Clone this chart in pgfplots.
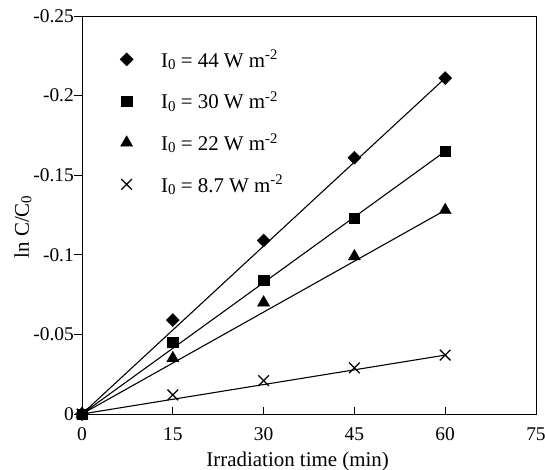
\documentclass[border=0pt]{standalone}
\usepackage{fontspec}
\setmainfont{Liberation Serif}
\usepackage{pgfplots}
\pgfplotsset{compat=1.18}
\newcommand{\Izero}{I\raisebox{-0.25ex}{\fontsize{15}{17}\selectfont 0}}
\begin{document}
\begin{tikzpicture}
\useasboundingbox (-82bp,-56bp) rectangle (463bp,414bp);
\begin{axis}[
  at={(0,0)}, anchor=south west,
  scale only axis,
  width=454bp, height=398bp,
  xmin=0, xmax=75,
  ymin=-0.25, ymax=0,
  y dir=reverse,
  xtick={0,15,30,45,60,75},
  ytick={-0.25,-0.2,-0.15,-0.1,-0.05,0},
  yticklabels={-0.25,-0.2,-0.15,-0.1,-0.05,0},
  xtick pos=bottom, ytick pos=left,
  tick align=inside,
  major tick length=7.5bp,
  y tick style={xshift=-7.5bp},
  tick style={black, line width=0.8pt},
  axis line style={line width=0.9pt},
  /pgf/number format/assume math mode=true,
  ticklabel style={font=\fontsize{19.5}{23}\selectfont, inner sep=0pt},
  xticklabel style={anchor=base, yshift=-26bp},
  yticklabel style={anchor=east, xshift=-8bp},
  label style={font=\fontsize{21}{25}\selectfont},
  xlabel={Irradiation time (min)},
  ylabel={ln C/C\raisebox{-0.25ex}{\fontsize{15}{17}\selectfont 0}},
  xlabel style={at={(rel axis cs:0.475,0)}, anchor=base, yshift=-52bp},
  ylabel style={at={(rel axis cs:-0.13,0.47)}, anchor=center},
  legend style={draw=none, fill=none, at={(rel axis cs:0.077,0.925)}, anchor=north west,
    font=\fontsize{21}{25}\selectfont, row sep=19bp, column sep=26bp},
  legend cell align=left,
]
\addplot[only marks, mark=square*, mark options={rotate=45}, mark size=4.6bp, black] coordinates {(0,0) (15,-0.059) (30,-0.109) (45,-0.161) (60,-0.211)};
\addlegendentry{\Izero{} = 44 W m\textsuperscript{-2}}
\addplot[only marks, mark=square*, mark size=5.2bp, black] coordinates {(0,0) (15,-0.045) (30,-0.084) (45,-0.123) (60,-0.165)};
\addlegendentry{\Izero{} = 30 W m\textsuperscript{-2}}
\addplot[only marks, mark=triangle*, mark size=7bp, black] coordinates {(0,0) (15,-0.035) (30,-0.070) (45,-0.099) (60,-0.128)};
\addlegendentry{\Izero{} = 22 W m\textsuperscript{-2}}
\addplot[only marks, mark=x, mark size=7.5bp, line width=1.3pt, black] coordinates {(0,0) (15,-0.012) (30,-0.021) (45,-0.029) (60,-0.037)};
\addlegendentry{\Izero{} = 8.7 W m\textsuperscript{-2}}
\addplot[black, line width=1.1pt, forget plot] coordinates {(0,0) (60,-0.211)};
\addplot[black, line width=1.1pt, forget plot] coordinates {(0,0) (60,-0.165)};
\addplot[black, line width=1.1pt, forget plot] coordinates {(0,0) (60,-0.128)};
\addplot[black, line width=1.1pt, forget plot] coordinates {(0,0) (60,-0.037)};
\end{axis}
\end{tikzpicture}
\end{document}
